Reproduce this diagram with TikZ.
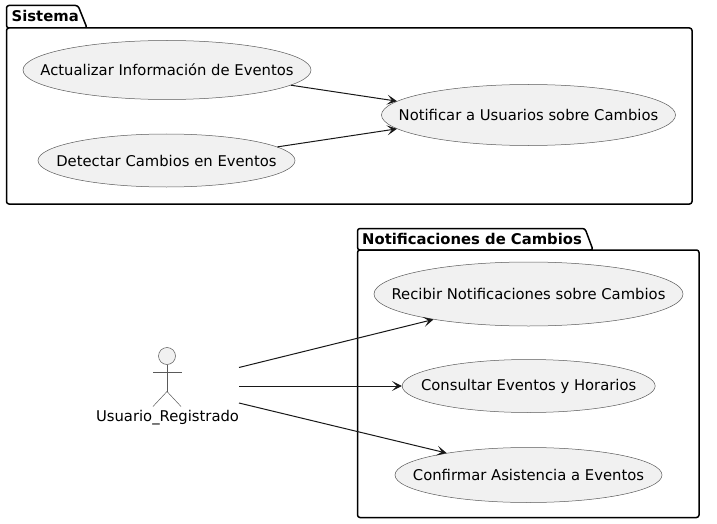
\documentclass[tikz,border=0pt]{standalone}
\usepackage{fontspec}
\setmainfont{DejaVu Sans}
\usetikzlibrary{arrows.meta,shapes.geometric}
\definecolor{ink}{HTML}{181818}
\definecolor{thin}{HTML}{5A5A5A}
\definecolor{uc}{HTML}{F1F1F1}
\newcommand{\uctext}[1]{\makebox[0pt][c]{#1}}
\tikzset{
  usecase/.style={ellipse,draw=thin,line width=0.5pt,fill=uc,inner sep=0pt,text=black,font=\fontsize{14.8}{17}\selectfont},
  pkg/.style={draw=black,line width=1.5pt,rounded corners=2.5pt,fill=white},
  pkgtitle/.style={font=\fontsize{14.8}{17}\selectfont\bfseries,inner sep=0pt,anchor=base west,text=black},
  link/.style={draw=ink,line width=1pt,-{Stealth[length=10pt,width=10pt,inset=5pt,fill=ink]}},
  stick/.style={draw=thin,line width=0.5pt}
}
\begin{document}
\begin{tikzpicture}[x=1pt,y=-1pt]
\useasboundingbox (0,0) rectangle (717,524);
\fill[white] (0,0) rectangle (717,524);
% packages
\draw[pkg] (6.5,28) -- (6.5,5.5) -- (78,5.5) -- (87,28) -- cycle;
\draw[pkg] (6.5,28) -- (692,28) -- (692,204) -- (6.5,204) -- cycle;
\node[pkgtitle] (sistema) at (11.5,21.5) {Sistema};
\draw[pkg] (357.5,250) -- (357.5,228.5) -- (585,228.5) -- (593,250) -- cycle;
\draw[pkg] (357.5,250) -- (699,250) -- (699,517.5) -- (357.5,517.5) -- cycle;
\node[pkgtitle] (notif) at (362,244) {Notificaciones de Cambios};
% use cases
\node[usecase,minimum width=288pt,minimum height=59pt] (act) at (167,70) {\uctext{Actualizar Información de Eventos}};
\node[usecase,minimum width=257pt,minimum height=53pt] (det) at (166.5,160.5) {\uctext{Detectar Cambios en Eventos}};
\node[usecase,minimum width=294pt,minimum height=61pt] (noti) at (528.5,115) {\uctext{Notificar a Usuarios sobre Cambios}};
\node[usecase,minimum width=309pt,minimum height=64pt] (rec) at (528.5,294) {\uctext{Recibir Notificaciones sobre Cambios}};
\node[usecase,minimum width=253pt,minimum height=53pt] (con) at (528.7,386) {\uctext{Consultar Eventos y Horarios}};
\node[usecase,minimum width=267pt,minimum height=55pt] (conf) at (528.5,475) {\uctext{Confirmar Asistencia a Eventos}};
% actor
\node[circle,draw=thin,line width=0.5pt,fill=uc,minimum size=17pt,inner sep=0pt] (head) at (167,356) {};
\coordinate (hip) at (167,391.5);
\coordinate (armL) at (153,372);
\coordinate (armR) at (182,372);
\coordinate (legL) at (153,406.5);
\coordinate (legR) at (181,406.5);
\draw[stick] (head.south) -- (hip);
\draw[stick] (armL) -- (armR);
\draw[stick] (legL) -- (hip) -- (legR);
\node[inner sep=0pt,font=\fontsize{14.8}{17}\selectfont,anchor=base,text=black] (usuario) at (167.5,421) {Usuario\_Registrado};
\coordinate (a1) at (239,367.5);
\coordinate (a2) at (239,386);
\coordinate (a3) at (239,403);
% links
\draw[link] (act.-7) -- (noti.174);
\draw[link] (det.7) -- (noti.186);
\draw[link] (a1) -- (rec.195);
\draw[link] (a2) -- (con.west);
\draw[link] (a3) -- (conf.165);
\end{tikzpicture}
\end{document}
